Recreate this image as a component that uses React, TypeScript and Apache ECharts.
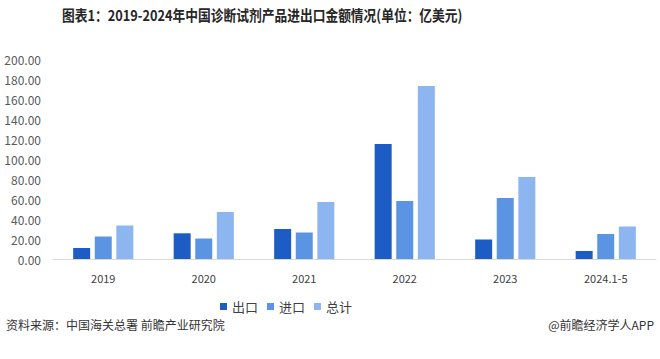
import React, { useEffect, useRef } from "react";
import * as echarts from "echarts";

const categories = ["2019", "2020", "2021", "2022", "2023", "2024.1-5"];
const exportVals = [11, 25.7, 30, 115, 19.5, 8];
const importVals = [22.5, 20.5, 26.5, 58, 61, 25];
const totalVals = [33.5, 47, 57, 173, 82, 32.5];
const seriesNames = ["出口", "进口", "总计"];
const colors = ["#1c5cc4", "#5b94e2", "#8db6f0"];

const FONT = "'Noto Sans CJK SC', 'Noto Sans', sans-serif";

export default function App() {
  const ref = useRef<HTMLDivElement>(null);
  useEffect(() => {
    if (!ref.current) return;
    const chart = echarts.init(ref.current, undefined, { renderer: "svg" });
    const dataSets = [exportVals, importVals, totalVals];
    chart.setOption({
      animation: false,
      backgroundColor: "#ffffff",
      textStyle: { fontFamily: FONT },
      grid: { left: 53, right: 4, top: 59, bottom: 100 },
      legend: {
        left: 215,
        top: 295,
        itemWidth: 7,
        itemHeight: 7,
        itemGap: 9,
        icon: "rect",
        textStyle: { fontSize: 13, color: "#404040", fontFamily: FONT },
        data: seriesNames,
      },
      xAxis: {
        type: "category",
        data: categories,
        axisLine: { lineStyle: { color: "#d9d9d9" } },
        axisTick: { show: false },
        axisLabel: { color: "#404040", fontSize: 11, margin: 13, fontFamily: FONT },
      },
      yAxis: {
        type: "value",
        min: 0,
        max: 200,
        interval: 20,
        splitLine: { show: false },
        axisLine: { show: false },
        axisTick: { show: false },
        axisLabel: {
          color: "#595959",
          fontSize: 12,
          margin: 12,
          fontFamily: FONT,
          formatter: (v: number) => v.toFixed(2),
        },
      },
      series: seriesNames.map((name, i) => ({
        name,
        type: "bar",
        data: dataSets[i],
        barWidth: 17,
        barGap: "27%",
        itemStyle: { color: colors[i] },
      })),
      graphic: [
        {
          type: "text",
          x: 62,
          y: 7,
          scaleX: 0.85,
          style: {
            text: "图表1：2019-2024年中国诊断试剂产品进出口金额情况(单位：亿美元)",
            font: `bold 15px ${FONT}`,
            fill: "#262626",
          },
        },
        {
          type: "text",
          left: 6,
          top: 318,
          style: {
            text: "资料来源：中国海关总署 前瞻产业研究院",
            font: `12px ${FONT}`,
            fill: "#333333",
          },
        },
        {
          type: "text",
          right: 6,
          top: 318,
          style: {
            text: "@前瞻经济学人APP",
            font: `12px ${FONT}`,
            fill: "#333333",
          },
        },
      ],
    });
    return () => chart.dispose();
  }, []);
  return (
    <div
      ref={ref}
      style={{ position: "fixed", left: 0, top: 0, width: 660, height: 359 }}
    />
  );
}
